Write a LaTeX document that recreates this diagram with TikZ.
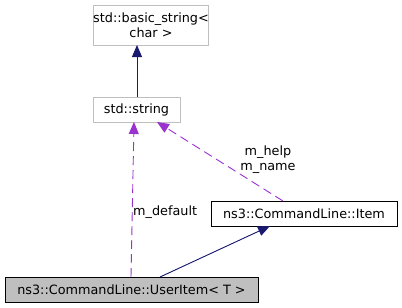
\documentclass[tikz,border=0pt]{standalone}
\usepackage{fontspec}
\setmainfont{DejaVu Sans}
\usetikzlibrary{arrows.meta}
\definecolor{navyedge}{HTML}{191970}
\definecolor{useedge}{HTML}{9A32CD}
\definecolor{grayframe}{HTML}{BFBFBF}
\definecolor{hilite}{HTML}{BFBFBF}
\tikzset{
  x=1pt, y=-1pt,
  every node/.style={font=\fontsize{12.8pt}{15pt}\selectfont, inner sep=0pt},
  extbox/.style={draw=grayframe, line width=0.9pt, fill=white, align=center},
  classbox/.style={draw=black, line width=0.9pt, fill=white},
  curbox/.style={draw=black, line width=0.9pt, fill=hilite},
  inherit/.style={draw=navyedge, line width=0.9pt, -{Triangle[length=12pt,width=10pt]}, fill=navyedge},
  usage/.style={draw=useedge, line width=0.9pt, dash pattern=on 9pt off 5pt,
    -{Triangle[length=12pt,width=10pt,fill=useedge]}},
  edgelabel/.style={align=center}
}
\begin{document}
\begin{tikzpicture}
\useasboundingbox (0,0) rectangle (402,308);
\node[extbox, minimum width=111pt, minimum height=40pt] (bs) at (151,25)
  {std::basic\_string<\\char >};
\node[extbox, minimum width=87pt, minimum height=25pt] (str) at (136.5,109.5) {std::string};
\node[classbox, minimum width=186pt, minimum height=25pt] (item) at (304,213.5) {ns3::CommandLine::Item};
\node[curbox, minimum width=253pt, minimum height=25pt] (ui) at (131.5,289.5) {ns3::CommandLine::UserItem< T >};

\coordinate (strtop) at (137,97);
\coordinate (bsbot) at (137,45);
\coordinate (uiA) at (131,277);
\coordinate (strbotA) at (134,122);
\coordinate (itemtop) at (283,201);
\coordinate (strbotB) at (157,122);
\coordinate (uiB) at (160,277);
\coordinate (itembot) at (270,226);

\draw[inherit] (strtop) -- (bsbot);
\draw[usage] (uiA) -- (strbotA);
\draw[usage] (itemtop) -- (strbotB);
\draw[inherit] (uiB) -- (itembot);

\node[edgelabel] (lblhelp) at (268,160) {m\_help\\m\_name};
\node[anchor=west] (lbldef) at (133,212) {m\_default};
\end{tikzpicture}
\end{document}
